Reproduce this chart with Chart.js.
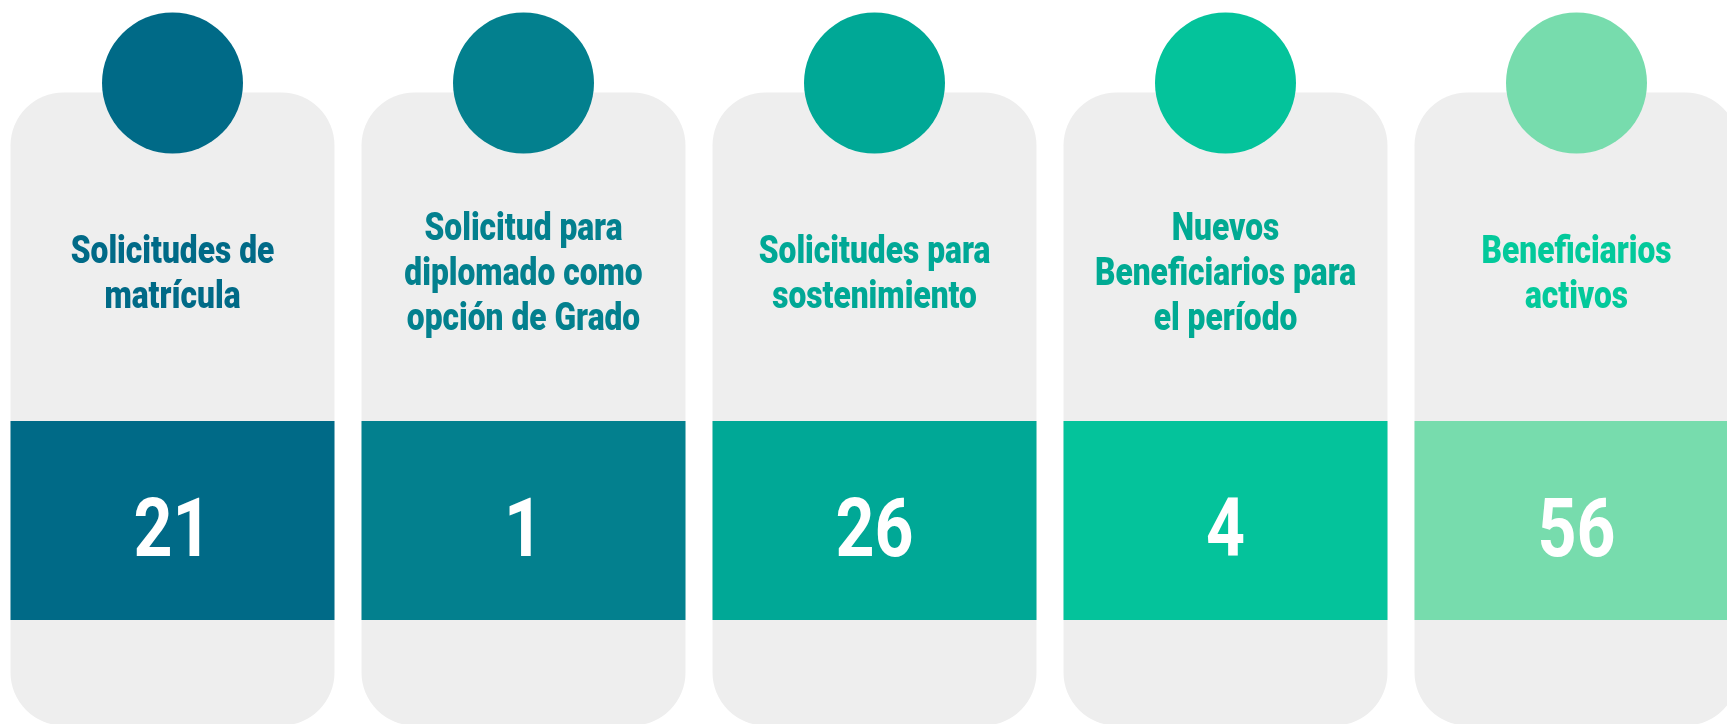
<!DOCTYPE html>
<html>
<head>
<meta charset="utf-8">
<script src="https://cdn.jsdelivr.net/npm/chart.js@4"></script>
<style>
  html, body { margin: 0; padding: 0; background: #ffffff; overflow: hidden; width: 1727px; height: 724px; }
  #wrap { position: absolute; left: -3px; top: 0; width: 1755px; height: 724px; }
</style>
</head>
<body>
<div id="wrap"><canvas id="cards" width="1755" height="724"></canvas></div>
<script>
const labels = [
    ['Solicitudes de', 'matrícula'],
    ['Solicitud para', 'diplomado como', 'opción de Grado'],
    ['Solicitudes para', 'sostenimiento'],
    ['Nuevos', 'Beneficiarios para', 'el período'],
    ['Beneficiarios', 'activos']
];
const values = [21, 1, 26, 4, 56];
const colors = ['#006a87', '#03808e', '#00a896', '#04c39b', '#77dcad'];
const titleColors = ['#006a87', '#03808e', '#00a896', '#00aa93', '#03c99b'];

// draws the cards around each (invisible) bar, using the bar's x and width
const cardPlugin = {
    id: 'cards',
    beforeDatasetsDraw(chart) {
        const ctx = chart.ctx;
        const meta = chart.getDatasetMeta(0);
        meta.data.forEach(function (bar, i) {
            const cx = bar.x;
            const w = bar.width;
            const left = cx - w / 2;

            // grey card
            ctx.save();
            ctx.fillStyle = '#eeeeee';
            ctx.beginPath();
            ctx.roundRect(left, 92.5, w, 633, 53);
            ctx.fill();

            // coloured band
            ctx.fillStyle = colors[i];
            ctx.fillRect(left, 421, w, 199);

            // circle on top
            ctx.beginPath();
            ctx.arc(cx, 83, 70.5, 0, Math.PI * 2);
            ctx.fill();

            // title
            const lines = labels[i];
            const lineH = 45;
            const first = 285 - (lines.length - 1) * lineH / 2;
            ctx.fillStyle = titleColors[i];
            ctx.font = '900 38px Roboto';
            ctx.textAlign = 'center';
            ctx.textBaseline = 'alphabetic';
            lines.forEach(function (line, k) {
                ctx.save();
                ctx.translate(cx, first + k * lineH);
                ctx.scale(0.835, 1);
                ctx.fillText(line, 0, 0);
                ctx.restore();
            });

            // value
            ctx.fillStyle = '#ffffff';
            ctx.font = 'bold 82px Roboto';
            ctx.save();
            ctx.translate(cx, 556);
            ctx.scale(0.83, 1);
            ctx.fillText(String(values[i]), 0, 0);
            ctx.restore();

            ctx.restore();
        });
    }
};

new Chart(document.getElementById('cards'), {
    type: 'bar',
    data: {
        labels: labels,
        datasets: [{
            label: 'Total',
            data: values,
            backgroundColor: 'rgba(0,0,0,0)',
            borderWidth: 0,
            categoryPercentage: 1,
            barPercentage: 0.923
        }]
    },
    options: {
        responsive: false,
        animation: false,
        layout: { padding: 0 },
        scales: {
            x: { display: false },
            y: { display: false, beginAtZero: true }
        },
        plugins: {
            legend: { display: false },
            tooltip: { enabled: false }
        }
    },
    plugins: [cardPlugin]
});
</script>
</body>
</html>
